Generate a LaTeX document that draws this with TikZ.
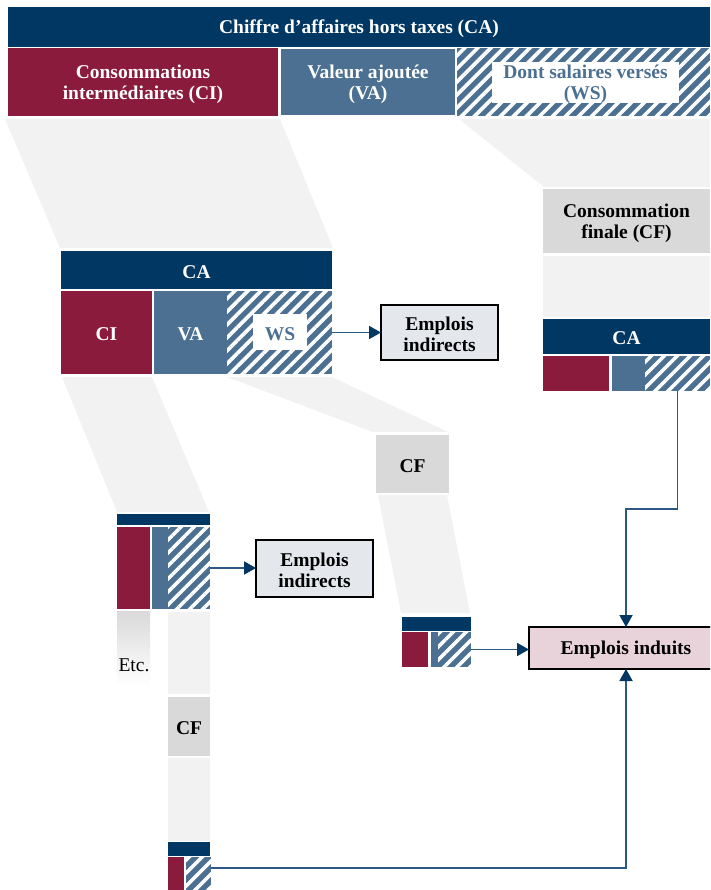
\documentclass[tikz,border=0pt]{standalone}
\usepackage{fontspec}
\setmainfont{Liberation Serif}
\usetikzlibrary{fit,arrows.meta,patterns.meta}

\definecolor{bleunuit}{RGB}{0,55,99}
\definecolor{bordeaux}{RGB}{139,27,60}
\definecolor{bleuva}{RGB}{75,112,146}
\definecolor{grisclair}{RGB}{242,242,242}
\definecolor{grisfonce}{RGB}{217,217,217}
\definecolor{fondind}{RGB}{228,232,237}
\definecolor{fondinduit}{RGB}{232,211,219}
\definecolor{trait}{RGB}{44,88,132}

\tikzset{
  bloc/.style={inner sep=0pt, outer sep=0pt},
  txt/.style={align=center, inner sep=0pt, yshift=-2pt,
    font=\bfseries\fontsize{19.5}{21}\selectfont},
  blanc/.style={txt, text=white},
  noir/.style={txt, text=black},
  bleu/.style={txt, text=bleuva},
  ca/.style={bloc, fill=bleunuit},
  ci/.style={bloc, fill=bordeaux},
  va/.style={bloc, fill=bleuva},
  ws/.style={bloc, fill=bleuva,
    postaction={pattern={Lines[angle=45,distance=9.2pt,line width=3.6pt]}, pattern color=white}},
  wslabel/.style={bloc, fill=white},
  cf/.style={bloc, fill=grisfonce},
  vide/.style={bloc, fill=grisclair},
  emplois/.style={bloc, draw=black, line width=1.8pt},
  entonnoir/.style={fill=grisclair},
  fleche/.style={draw=trait, line width=1.8pt,
    -{Triangle[length=12pt,width=13pt,color=bleunuit]}}
}

\begin{document}
\begin{tikzpicture}[x=1pt,y=-1pt]
    \useasboundingbox (0,0) rectangle (710,890);
    \clip (0,0) rectangle (710,890);

    % Draw the full breakdown of turnover
    \node[ca, fit={(8,7)(710,47)}, label={[blanc]center:Chiffre d’affaires hors taxes (CA)}] (ca1) {};
    \node[ci, fit={(8,48)(278,116)}, label={[blanc]center:Consommations\\intermédiaires (CI)}] (ci1) {};
    \node[va, draw=white, line width=1.2pt, fit={(280,48)(456,116)},
      label={[blanc]center:Valeur ajoutée\\(VA)}] (va1) {};
    \node[ws, fit={(457,48)(710,116)}] (ws1) {};
    \node[wslabel, fit={(492,62)(679,103)}, label={[bleu]center:Dont salaires versés\\(WS)}] (lab1) {};

    % Funnels towards suppliers and final consumption
    \fill[entonnoir] (5,119) -- (280,119) -- (333,248) -- (60,248) -- cycle;
    \fill[entonnoir] (459,119) -- (710,119) -- (710,187) -- (544,187) -- cycle;

    % Final consumption column
    \node[cf, fit={(543,189)(710,253)}, label={[noir]center:Consommation\\finale (CF)}] (cf1) {};
    \node[vide, fit={(543,256)(710,317)}] (vide1) {};
    \node[ca, fit={(543,319)(710,354)}, label={[blanc]center:CA}] (ca3) {};
    \node[ci, fit={(543,356)(609,391)}] (ci3) {};
    \node[va, fit={(612,356)(645,391)}] (va3) {};
    \node[ws, fit={(645,356)(710,391)}] (ws3) {};

    % Suppliers, first rank
    \node[ca, fit={(61,251)(332,289)}, label={[blanc]center:CA}] (ca2) {};
    \node[ci, fit={(61,291)(152,374)}, label={[blanc]center:CI}] (ci2) {};
    \node[va, fit={(154,291)(227,374)}, label={[blanc]center:VA}] (va2) {};
    \node[ws, fit={(227,291)(332,374)}] (ws2) {};
    \node[wslabel, fit={(253,314)(307,350)}, label={[bleu]center:WS}] (lab2) {};
    \node[emplois, fill=fondind, fit={(381,305)(498,360)},
      label={[noir]center:Emplois\\indirects}] (ind1) {};

    \fill[entonnoir] (62,377) -- (152,377) -- (209,512) -- (117,512) -- cycle;
    \fill[entonnoir] (227,377) -- (332,377) -- (448,432) -- (373,432) -- cycle;

    % Consumption out of wages
    \node[cf, fit={(376,435)(449,493)}, label={[noir]center:CF}] (cf2) {};
    \fill[entonnoir] (378,495) -- (447,495) -- (470,613) -- (401,613) -- cycle;
    \node[ca, fit={(402,617)(471,631)}] (ca4) {};
    \node[ci, fit={(402,632)(428,667)}] (ci4) {};
    \node[va, fit={(431,632)(438,667)}] (va4) {};
    \node[ws, fit={(438,632)(471,667)}] (ws4) {};
    \node[emplois, fill=fondinduit, fit={(529,627)(723,669)},
      label={[noir]center:Emplois induits}] (induits) {};

    % Suppliers, second rank
    \node[ca, fit={(117,514)(210,525)}] (ca5) {};
    \node[ci, fit={(117,527)(150,609)}] (ci5) {};
    \node[va, fit={(152,527)(168,609)}] (va5) {};
    \node[ws, fit={(168,527)(210,609)}] (ws5) {};
    \node[emplois, fill=fondind, fit={(256,540)(373,597)},
      label={[noir]center:Emplois\\indirects}] (ind2) {};

    \shade[top color=grisfonce, bottom color=white] (117,611) rectangle (150,685);
    \node[font=\fontsize{19.5}{21}\selectfont] (etc) at (134,665) {Etc.};

    \node[vide, fit={(168,612)(210,694)}] (vide2) {};
    \node[cf, fit={(168,697)(210,756)}, label={[noir]center:CF}] (cf3) {};
    \node[vide, fit={(168,758)(210,841)}] (vide3) {};
    \node[ca, fit={(168,842)(210,856)}] (ca6) {};
    \node[ci, fit={(168,857)(184,890)}] (ci6) {};
    \node[ws, fit={(186,857)(211,890)}] (ws6) {};

    % Draw the job arrows
    \coordinate (coude) at (626,509);
    \draw[fleche] (ws2.east) -- (ind1.west);
    \draw[fleche] (ws5.east) -- (ws5.east -| ind2.west);
    \draw[fleche] (ws4.east) -- (ws4.east -| induits.west);
    \draw[fleche] (ws3.south) |- (coude) -- (induits.north);
    \draw[fleche] ([yshift=5.5pt]ws6.east) -| (induits.south);
\end{tikzpicture}
\end{document}
